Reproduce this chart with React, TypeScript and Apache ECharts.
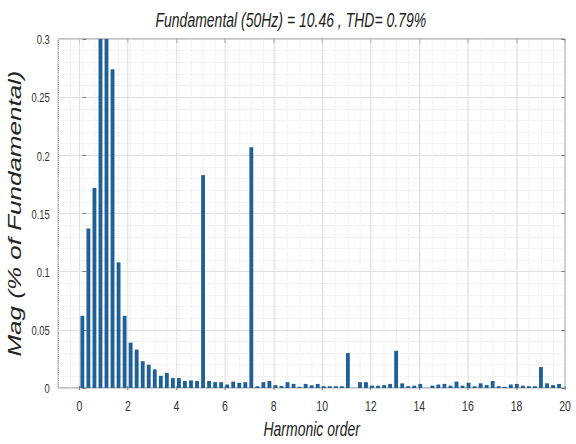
import React, { useEffect, useRef } from "react";
import * as echarts from "echarts";

const titleText = "Fundamental (50Hz) = 10.46 , THD= 0.79%";
const xAxisName = "Harmonic order";
const yAxisName = "Mag (% of Fundamental)";

const harmonicOrders = [
  0, 0.25, 0.5, 0.75, 1, 1.25, 1.5, 1.75,
  2, 2.25, 2.5, 2.75, 3, 3.25, 3.5, 3.75,
  4, 4.25, 4.5, 4.75, 5, 5.25, 5.5, 5.75,
  6, 6.25, 6.5, 6.75, 7, 7.25, 7.5, 7.75,
  8, 8.25, 8.5, 8.75, 9, 9.25, 9.5, 9.75,
  10, 10.25, 10.5, 10.75, 11, 11.25, 11.5, 11.75,
  12, 12.25, 12.5, 12.75, 13, 13.25, 13.5, 13.75,
  14, 14.25, 14.5, 14.75, 15, 15.25, 15.5, 15.75,
  16, 16.25, 16.5, 16.75, 17, 17.25, 17.5, 17.75,
  18, 18.25, 18.5, 18.75, 19, 19.25, 19.5, 19.75,
];

const magnitudes = [
  0.062, 0.137, 0.172, 0.62, 1.0, 0.274, 0.108, 0.062,
  0.039, 0.033, 0.023, 0.02, 0.016, 0.0105, 0.013, 0.0085,
  0.0085, 0.006, 0.0065, 0.006, 0.183, 0.006, 0.005, 0.005,
  0.003, 0.0055, 0.0045, 0.005, 0.207, 0.0015, 0.005, 0.006,
  0.0025, 0.0017, 0.005, 0.0035, 0.001, 0.0035, 0.0023, 0.0035,
  0.0015, 0.0015, 0.0015, 0.0015, 0.03, 0, 0.005, 0.005,
  0.002, 0.002, 0.0025, 0.0035, 0.032, 0.004, 0.0015, 0.002,
  0.0035, 0, 0.002, 0.003, 0.0035, 0.002, 0.0055, 0.002,
  0.0045, 0.0015, 0.004, 0.0025, 0.006, 0.0015, 0.001, 0.003,
  0.0035, 0.002, 0.0015, 0.0015, 0.018, 0.004, 0.0025, 0.0035,
];

const xMin = -1;
const xMax = 20;
const xTickStep = 2;
const xMinorStep = 0.5;
const yMin = 0;
const yMax = 0.3;
const yTickStep = 0.05;

// The reference is horizontally condensed; the chart is drawn wide and squeezed.
const SQUEEZE = 0.7;
const WIDE_W = Math.round(576 / SQUEEZE);
const H = 444;

const font = "'Liberation Sans', Arial, sans-serif";
const textColor = "#333333";
const axisColor = "#666666";
const majorGrid = "#dadada";
const minorGrid = "#e3e3e3";
const barColor = "#1f5f9a";
const barWidth = 5.5;

export default function App() {
  const ref = useRef<HTMLDivElement>(null);

  useEffect(() => {
    if (!ref.current) return;
    document.body.style.overflow = "hidden";
    const chart = echarts.init(ref.current, undefined, { renderer: "svg" });
    const data = harmonicOrders.map((x, i) => [x, magnitudes[i]]);
    const tickStyle = { show: true, inside: true, length: 4, lineStyle: { color: axisColor } };
    const yTickStyle = { show: true, inside: true, length: 5.5, lineStyle: { color: axisColor } };
    const gridLeft = 55 / SQUEEZE;
    const gridRight = 11 / SQUEEZE;
    const gridLeft2 = gridLeft + ((WIDE_W - gridLeft - gridRight) * (0 - xMin)) / (xMax - xMin);
    chart.setOption({
      animation: false,
      backgroundColor: "#ffffff",
      title: {
        text: titleText,
        left: 152 / SQUEEZE,
        top: 5,
        textStyle: {
          fontFamily: font,
          fontStyle: "italic",
          fontWeight: "normal",
          fontSize: 20,
          color: "#222222",
        },
      },
      grid: [
        {
          left: gridLeft,
          right: gridRight,
          top: 39,
          bottom: 54,
          show: true,
          borderColor: axisColor,
          borderWidth: 1,
          backgroundColor: "transparent",
        },
        { left: gridLeft2, right: gridRight, top: 39, bottom: 54 },
      ],
      xAxis: [
        {
          gridIndex: 0,
          type: "value",
          min: xMin,
          max: xMax,
          interval: xMinorStep,
          axisLine: { show: false },
          axisTick: { show: false },
          axisLabel: { show: false },
          splitLine: {
            show: true,
            lineStyle: { color: minorGrid, width: 1, type: "dotted" },
          },
          name: xAxisName,
          nameLocation: "middle",
          nameGap: 31,
          nameTextStyle: {
            fontFamily: font,
            fontStyle: "italic",
            fontSize: 20,
            color: "#222222",
          },
        },
        {
          gridIndex: 1,
          type: "value",
          min: 0,
          max: xMax,
          interval: xTickStep,
          z: 2,
          axisLine: { show: false },
          axisTick: tickStyle,
          splitLine: { show: true, lineStyle: { color: majorGrid, width: 1 } },
          axisLabel: {
            margin: 8,
            fontFamily: font,
            fontSize: 15,
            color: textColor,
          },
        },
        {
          gridIndex: 1,
          type: "value",
          position: "top",
          min: 0,
          max: xMax,
          interval: xTickStep,
          axisLine: { show: false },
          axisTick: tickStyle,
          axisLabel: { show: false },
          splitLine: { show: false },
        },
      ],
      yAxis: [
        {
          gridIndex: 0,
          type: "value",
          min: yMin,
          max: yMax,
          interval: yTickStep,
          axisLine: { show: false },
          axisTick: yTickStyle,
          axisLabel: {
            margin: 12,
            fontFamily: font,
            fontSize: 13.5,
            color: textColor,
            formatter: (v: number) => String(Math.round(v * 100) / 100),
          },
          splitLine: { show: true, lineStyle: { color: majorGrid } },
          minorTick: { show: false, splitNumber: 5 },
          minorSplitLine: { show: true, lineStyle: { color: minorGrid, type: "dotted" } },
          name: yAxisName,
          nameLocation: "middle",
          nameGap: 30,
          nameTextStyle: {
            fontFamily: font,
            fontStyle: "italic",
            fontSize: 26,
            color: "#222222",
          },
        },
        {
          gridIndex: 0,
          type: "value",
          position: "right",
          min: yMin,
          max: yMax,
          interval: yTickStep,
          axisLine: { show: false },
          axisTick: yTickStyle,
          axisLabel: { show: false },
          splitLine: { show: false },
        },
        { gridIndex: 1, type: "value", min: yMin, max: yMax, show: false },
      ],
      series: [
        {
          type: "custom",
          name: "Mag",
          xAxisIndex: 0,
          yAxisIndex: 0,
          data,
          encode: { x: 0, y: 1 },
          z: 5,
          renderItem: (params: any, api: any) => {
            const x = api.value(0);
            const y = api.value(1);
            const top = api.coord([x, y]);
            const base = api.coord([x, 0]);
            const cs = params.coordSys;
            const yTop = Math.max(top[1], cs.y);
            return {
              type: "rect",
              shape: { x: base[0] - barWidth / 2, y: yTop, width: barWidth, height: base[1] - yTop },
              style: { fill: barColor },
            };
          },
        },
      ],
    });
    return () => chart.dispose();
  }, []);

  return (
    <div
      ref={ref}
      style={{
        position: "fixed",
        left: 0,
        top: 0,
        width: WIDE_W,
        height: H,
        background: "#fff",
        transform: `scaleX(${SQUEEZE})`,
        transformOrigin: "0 0",
      }}
    />
  );
}
